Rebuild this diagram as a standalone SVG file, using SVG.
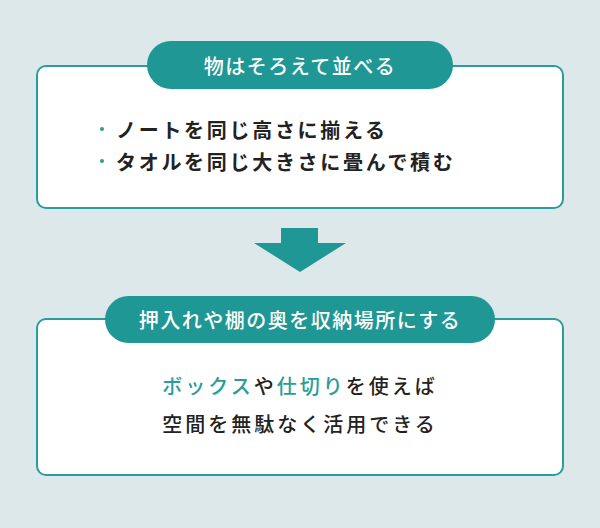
<svg xmlns="http://www.w3.org/2000/svg" width="600" height="528" viewBox="0 0 600 528">
<style>
.box{fill:#ffffff;stroke:#2a9d9a;stroke-width:2}
.pill{fill:#1f9794}
.t{font-family:"Noto Sans CJK JP","Noto Sans",sans-serif;font-size:20px}
.title{fill:#ffffff;font-weight:500;letter-spacing:1.5px}
.bul{fill:#222222;font-weight:700;letter-spacing:2.7px}
.body{fill:#222222;font-weight:500;letter-spacing:3px}
.hl{fill:#2a9d9a}
.dot{fill:#2a9d9a}
</style>
<rect width="600" height="528" fill="#dce8e9"/>
<g id="node1">
<rect class="box" x="37" y="66" width="526" height="142" rx="9"/>
<rect class="pill" x="147" y="41" width="306" height="48" rx="24"/>
<text class="t title" x="300" y="74" text-anchor="middle">物はそろえて並べる</text>
<circle class="dot" cx="102" cy="129" r="2"/>
<text class="t bul" x="116" y="138">ノートを同じ高さに揃える</text>
<circle class="dot" cx="102" cy="161" r="2"/>
<text class="t bul" x="116" y="170">タオルを同じ大きさに畳んで積む</text>
</g>
<g id="connectors">
<polygon class="pill" points="281,228 318,228 318,243 346,243 300,272 254,243 281,243"/>
</g>
<g id="node2">
<rect class="box" x="37" y="319" width="526" height="156" rx="9"/>
<rect class="pill" x="105" y="296" width="390" height="47" rx="23.5"/>
<text class="t title" x="300" y="328" text-anchor="middle">押入れや棚の奥を収納場所にする</text>
<text class="t body" x="300" y="394" text-anchor="middle"><tspan class="hl">ボックス</tspan>や<tspan class="hl">仕切り</tspan>を使えば</text>
<text class="t body" x="300" y="432" text-anchor="middle">空間を無駄なく活用できる</text>
</g>
</svg>
